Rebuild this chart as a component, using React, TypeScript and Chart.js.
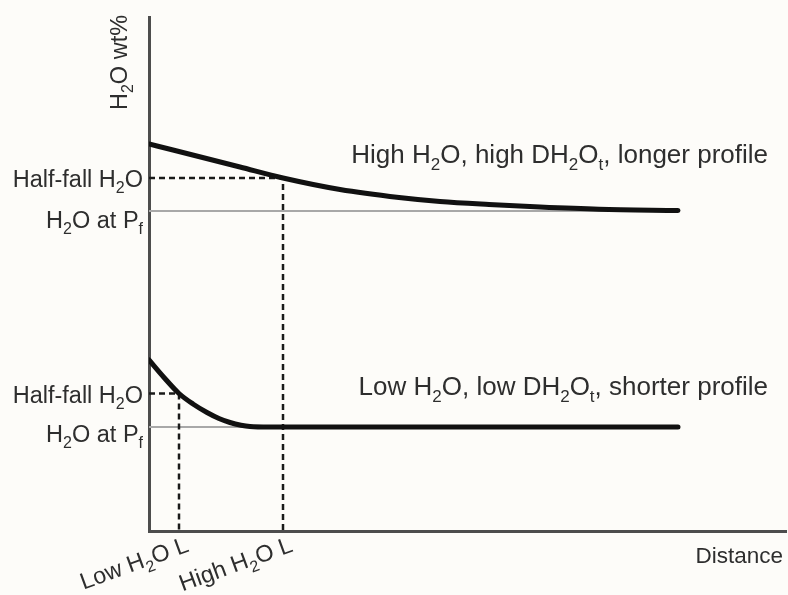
import React, { useEffect, useRef } from 'react';
import { Chart, registerables } from 'chart.js';

Chart.register(...registerables);

// Schematic profiles (arbitrary units: distance, H2O content)
const distanceHigh = [0, 24, 91, 134, 191, 250, 291, 340, 391, 450, 529];
const waterHigh = [387, 381, 364, 353, 341.5, 333.5, 329.5, 326.5, 324, 321.8, 320.5];
const distanceLow = [0, 15, 30, 44, 58, 70, 81, 92, 101, 120, 529];
const waterLow = [171, 153.5, 137.5, 127, 118.5, 112.5, 108.5, 105.8, 104.5, 104, 104];

const pfHigh = 320;
const pfLow = 104;
const pfHighEnd = 529;
const pfLowEnd = 160;
const halfFallHigh = 353;
const halfFallLow = 137.5;
const lengthHigh = 134;
const lengthLow = 30;

const xMax = 637;
const yMax = 514;

type Seg = { t: string; sub?: boolean };

const labelY: Seg[] = [{ t: 'H' }, { t: '2', sub: true }, { t: 'O wt%' }];
const labelHalf: Seg[] = [{ t: 'Half-fall H' }, { t: '2', sub: true }, { t: 'O' }];
const labelPf: Seg[] = [{ t: 'H' }, { t: '2', sub: true }, { t: 'O at P' }, { t: 'f', sub: true }];
const labelHigh: Seg[] = [
  { t: 'High H' }, { t: '2', sub: true }, { t: 'O, high DH' }, { t: '2', sub: true },
  { t: 'O' }, { t: 't', sub: true }, { t: ', longer profile' },
];
const labelLow: Seg[] = [
  { t: 'Low H' }, { t: '2', sub: true }, { t: 'O, low DH' }, { t: '2', sub: true },
  { t: 'O' }, { t: 't', sub: true }, { t: ', shorter profile' },
];
const labelLowL: Seg[] = [{ t: 'Low H' }, { t: '2', sub: true }, { t: 'O L' }];
const labelHighL: Seg[] = [{ t: 'High H' }, { t: '2', sub: true }, { t: 'O L' }];
const labelX = 'Distance';

const FAMILY = '"Liberation Sans", Arial, sans-serif';
const TEXT_COLOR = '#2e2e2e';

function drawRich(
  ctx: CanvasRenderingContext2D,
  segs: Seg[],
  x: number,
  y: number,
  align: 'left' | 'right',
  size: number,
) {
  const main = `${size}px ${FAMILY}`;
  const sub = `${Math.round(size * 0.66)}px ${FAMILY}`;
  const off = size * 0.26;
  ctx.textAlign = 'left';
  ctx.textBaseline = 'alphabetic';
  const widths = segs.map((s) => {
    ctx.font = s.sub ? sub : main;
    return ctx.measureText(s.t).width;
  });
  const total = widths.reduce((a, b) => a + b, 0);
  let cx = align === 'right' ? x - total : x;
  segs.forEach((s, i) => {
    ctx.font = s.sub ? sub : main;
    ctx.fillText(s.t, cx, y + (s.sub ? off : 0));
    cx += widths[i];
  });
}

const labelsPlugin = {
  id: 'schematicLabels',
  afterDraw(chart: any) {
    const ctx: CanvasRenderingContext2D = chart.ctx;
    const xs = chart.scales.x;
    const ys = chart.scales.y;
    const left = chart.chartArea.left;
    ctx.save();
    ctx.fillStyle = TEXT_COLOR;

    // y title
    ctx.save();
    ctx.translate(left - 22, 110);
    ctx.rotate(-Math.PI / 2);
    drawRich(ctx, labelY, 0, 0, 'left', 23.5);
    ctx.restore();

    // level labels
    drawRich(ctx, labelHalf, left - 6, ys.getPixelForValue(halfFallHigh) + 9, 'right', 23.5);
    drawRich(ctx, labelPf, left - 6, ys.getPixelForValue(pfHigh) + 17, 'right', 23.5);
    drawRich(ctx, labelHalf, left - 6, ys.getPixelForValue(halfFallLow) + 9, 'right', 23.5);
    drawRich(ctx, labelPf, left - 6, ys.getPixelForValue(pfLow) + 15, 'right', 23.5);

    // profile labels
    drawRich(ctx, labelHigh, 768, 163, 'right', 26);
    drawRich(ctx, labelLow, 768, 395, 'right', 26);

    // x title
    ctx.font = `22.5px ${FAMILY}`;
    ctx.textAlign = 'right';
    ctx.fillText(labelX, chart.chartArea.right - 3, chart.chartArea.bottom + 32);

    // length labels (rotated)
    const by = chart.chartArea.bottom + 20;
    [[lengthLow, labelLowL], [lengthHigh, labelHighL]].forEach(([v, segs]: any) => {
      ctx.save();
      ctx.translate(xs.getPixelForValue(v) + 11, by);
      ctx.rotate((-20 * Math.PI) / 180);
      drawRich(ctx, segs, 0, 0, 'right', 23.5);
      ctx.restore();
    });
    ctx.restore();
  },
};

export default function App() {
  const ref = useRef<HTMLCanvasElement | null>(null);
  useEffect(() => {
    document.body.style.margin = '0';
    document.body.style.background = '#fdfcf9';
    const curve = (xs: number[], ys: number[]) => xs.map((x, i) => ({ x, y: ys[i] }));
    const chart = new Chart(ref.current as HTMLCanvasElement, {
      type: 'line',
      data: {
        datasets: [
          {
            data: curve(distanceHigh, waterHigh),
            borderColor: '#111',
            borderWidth: 5,
            borderCapStyle: 'round',
            cubicInterpolationMode: 'monotone',
            pointRadius: 0,
            order: 1,
          },
          {
            data: curve(distanceLow, waterLow),
            borderColor: '#111',
            borderWidth: 5,
            borderCapStyle: 'round',
            cubicInterpolationMode: 'monotone',
            pointRadius: 0,
            order: 1,
          },
          {
            data: [{ x: 0, y: pfHigh }, { x: pfHighEnd, y: pfHigh }],
            borderColor: '#a8a8a8',
            borderWidth: 2,
            pointRadius: 0,
            order: 3,
          },
          {
            data: [{ x: 0, y: pfLow }, { x: pfLowEnd, y: pfLow }],
            borderColor: '#a8a8a8',
            borderWidth: 2,
            pointRadius: 0,
            order: 3,
          },
          {
            data: [{ x: 0, y: halfFallHigh }, { x: lengthHigh, y: halfFallHigh }, { x: lengthHigh, y: 0 }],
            borderColor: '#1a1a1a',
            borderWidth: 2.5,
            borderDash: [6, 4],
            pointRadius: 0,
            tension: 0,
            order: 2,
          },
          {
            data: [{ x: 0, y: halfFallLow }, { x: lengthLow, y: halfFallLow }, { x: lengthLow, y: 0 }],
            borderColor: '#1a1a1a',
            borderWidth: 2.5,
            borderDash: [6, 4],
            pointRadius: 0,
            tension: 0,
            order: 2,
          },
        ],
      } as any,
      options: {
        animation: false,
        responsive: false,
        events: [],
        layout: { padding: { left: 149, top: 17, right: 2, bottom: 64 } },
        plugins: { legend: { display: false }, tooltip: { enabled: false } },
        scales: {
          x: {
            type: 'linear',
            min: 0,
            max: xMax,
            ticks: { display: false },
            grid: { display: false, drawTicks: false },
            border: { display: true, color: '#4d4d4d', width: 3 },
            afterFit: (s: any) => { s.height = 0; },
          },
          y: {
            type: 'linear',
            min: 0,
            max: yMax,
            ticks: { display: false },
            grid: { display: false, drawTicks: false },
            border: { display: true, color: '#4d4d4d', width: 3 },
            afterFit: (s: any) => { s.width = 0; },
          },
        },
      } as any,
      plugins: [labelsPlugin],
    });
    return () => chart.destroy();
  }, []);
  return <canvas ref={ref} width={788} height={595} style={{ display: 'block' }} />;
}
